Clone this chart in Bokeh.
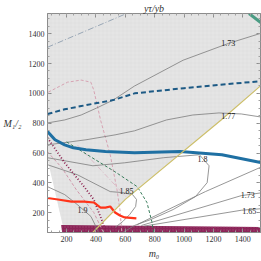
from bokeh.plotting import figure
from bokeh.models import Range1d, LinearAxis, FixedTicker, ColumnDataSource
from bokeh.embed import file_html
from bokeh.resources import INLINE
from bokeh.core.properties import value

# ---------------- data (m0, M1/2) ----------------
tick_values = [200, 400, 600, 800, 1000, 1200, 1400]
title_text = "yτ/yb"
x_label = "m₀"
y_label = "M₁/₂"

# excluded (grey) region boundary pieces
yellow_m0 = [378, 600, 1250, 1520]
yellow_M = [68, 290, 820, 1050]
wedge_m0 = [184, 174, 70]
wedge_M = [68, 115, 560]
top_m0 = [70, 1520]
top_M = [1535, 1535]

# bottom (LEP) bar
bar_m0 = [170, 163, 1520, 1520]
bar_M = [68, 118, 105, 68]

# thick solid blue
blue_m0 = [70, 121, 187, 246, 332, 464, 663, 973, 1257, 1521]
blue_M = [744, 689, 655, 635, 622, 611, 602, 611, 589, 537]

# dashed blue
dblue_m0 = [70, 187, 300, 407, 517, 663, 1000, 1521]
dblue_M = [862, 893, 915, 935, 955, 1000, 1035, 1082]

# teal segment top right
teal_m0 = [1442, 1521]
teal_M = [1535, 1475]

# contours of y_t/y_b
c173_m0 = [70, 187, 299, 405, 517, 662, 993, 1303, 1521]
c173_M = [802, 822, 855, 902, 955, 1049, 1222, 1335, 1402]
c177_m0 = [70, 332, 530, 662, 880, 1059, 1237, 1389, 1521]
c177_M = [655, 689, 722, 749, 822, 855, 869, 862, 842]
c180_m0 = [70, 379, 596, 860, 1104, 1170, 1157, 1078, 926, 774, 662, 583]
c180_M = [569, 515, 535, 569, 589, 515, 402, 309, 222, 155, 115, 68]
c185_m0 = [70, 273, 497, 583, 649, 676, 670, 630, 583, 531]
c185_M = [522, 455, 342, 335, 322, 289, 242, 189, 142, 102]
c190_m0 = [70, 187, 273, 366, 399, 418]
c190_M = [375, 322, 255, 175, 109, 68]
f1_m0 = [682, 1145, 1521]
f1_M = [122, 342, 505]
f2_m0 = [709, 1389, 1521]
f2_M = [115, 315, 333]
f3_m0 = [728, 1389, 1521]
f3_M = [111, 217, 227]

label_text = ["1.73", "1.77", "1.8", "1.85", "1.9", "1.73", "1.65"]
label_m0 = [1301, 1301, 1125, 608, 308, 1433, 1444]
label_M = [1337, 851, 562, 344, 222, 317, 211]

# other constraint curves
green_m0 = [200, 233, 397, 529, 681, 747, 780, 793]
green_M = [675, 655, 555, 475, 375, 269, 142, 68]
maroon_m0 = [70, 187, 319, 385, 438, 471]
maroon_M = [702, 535, 375, 289, 155, 68]
pink2_m0 = [70, 167, 266, 385, 451]
pink2_M = [609, 502, 355, 202, 68]
pink_m0 = [75, 207, 299, 365, 385, 431, 497, 543, 563, 576]
pink_M = [1008, 1075, 1089, 1075, 1022, 822, 589, 355, 222, 68]
pinkdd_m0 = [273, 603]
pinkdd_M = [655, 309]
dashdot_m0 = [70, 609]
dashdot_M = [1309, 1535]
red_m0 = [70, 141, 233, 319, 385, 431, 464, 497, 530, 563, 596, 675]
red_M = [299, 289, 275, 275, 269, 235, 235, 242, 202, 182, 169, 162]

# ---------------- figure ----------------
p = figure(width=261, height=261, output_backend="svg", toolbar_location=None,
           x_range=Range1d(70, 1520), y_range=Range1d(68, 1535),
           min_border_left=40, min_border_right=1, min_border_top=13, min_border_bottom=28,
           x_axis_location=None, y_axis_location=None)
p.background_fill_color = "white"
p.border_fill_color = "white"
p.outline_line_color = "#8c8c8c"
p.xgrid.grid_line_color = None
p.ygrid.grid_line_color = None

p.title.text = title_text
p.title.align = "center"
p.title.text_font = "Liberation Serif"
p.title.text_font_style = "italic"
p.title.text_font_size = "10px"
p.title.text_color = "#333333"
p.title.standoff = 0
p.title.offset = 0

serif = value("Liberation Serif")

def mk_axis(show_labels):
    ax = LinearAxis(ticker=FixedTicker(ticks=tick_values,
                                       minor_ticks=[v for v in range(0, 1600, 50)]))
    ax.axis_line_color = "#8c8c8c"
    ax.major_tick_line_color = "#8c8c8c"
    ax.minor_tick_line_color = "#a0a0a0"
    ax.major_tick_in = 4
    ax.major_tick_out = 0
    ax.minor_tick_in = 2
    ax.minor_tick_out = 0
    ax.major_label_text_font = "Liberation Serif"
    ax.major_label_text_color = "#333333"
    ax.major_label_text_font_size = "8px"
    ax.axis_label_text_font = "Liberation Serif"
    ax.axis_label_text_font_style = "italic"
    ax.axis_label_text_font_size = "10px"
    ax.axis_label_text_color = "#333333"
    if show_labels:
        ax.major_label_standoff = 3
    else:
        ax.major_label_text_color = None
        ax.major_label_text_alpha = 0
        ax.major_label_standoff = 0
    return ax

yax = mk_axis(True)
yax.axis_label = y_label
yax.axis_label_orientation = "horizontal"
yax.axis_label_standoff = 4
p.add_layout(yax, "left")

xax = mk_axis(True)
xax.axis_label = x_label
xax.axis_label_standoff = 3
p.add_layout(xax, "below")

p.add_layout(mk_axis(False), "right")
p.add_layout(mk_axis(False), "above")

# grey region
gray_x = top_m0 + yellow_m0[::-1] + wedge_m0
gray_y = top_M + yellow_M[::-1] + wedge_M
p.patch(gray_x, gray_y, fill_color="#e5e5e5", line_color=None,
        hatch_pattern="+", hatch_color="#d6d6d6", hatch_scale=4, hatch_weight=0.5, hatch_alpha=0.6)

# bottom bar
p.patch(bar_m0, bar_M, fill_color="#8b2558", line_color=None,
        hatch_pattern="dot", hatch_color="#a8487a", hatch_scale=3, hatch_alpha=0.7)

# faint / constraint lines
p.line(dashdot_m0, dashdot_M, line_color="#98a6b5", line_width=1, line_dash="6 2 1 2")
p.line(pink_m0, pink_M, line_color="#d6a2b2", line_width=1, line_dash="3 2")
p.line(pink2_m0, pink2_M, line_color="#cf97aa", line_width=1, line_dash="3 2")
p.line(pinkdd_m0, pinkdd_M, line_color="#dcbcc8", line_width=1, line_dash="5 2 1 2")

# contours
for xs, ys in [(c173_m0, c173_M), (c177_m0, c177_M), (c180_m0, c180_M), (c185_m0, c185_M),
               (c190_m0, c190_M), (f1_m0, f1_M), (f2_m0, f2_M), (f3_m0, f3_M)]:
    p.line(xs, ys, line_color="#7c7c7c", line_width=0.8)

p.line(green_m0, green_M, line_color="#3a7d5c", line_width=1, line_dash="3 2")
p.line(maroon_m0, maroon_M, line_color="#8b1f4e", line_width=1.8, line_dash="1 2")
p.line(dblue_m0, dblue_M, line_color="#1d5a85", line_width=2, line_dash="5 3")
p.line(blue_m0, blue_M, line_color="#1f70a3", line_width=3)
p.line(teal_m0, teal_M, line_color="#4b9c84", line_width=3)
p.line(red_m0, red_M, line_color="#ff3319", line_width=2.2)
p.line(yellow_m0, yellow_M, line_color="#cdbf6a", line_width=1.2)

src = ColumnDataSource(dict(x=label_m0, y=label_M, t=label_text))
p.text("x", "y", text="t", source=src, text_font=serif, text_font_size="8px",
       text_color="#222222", text_align="center", text_baseline="middle")

open("out.html", "w").write(file_html(p, INLINE))
